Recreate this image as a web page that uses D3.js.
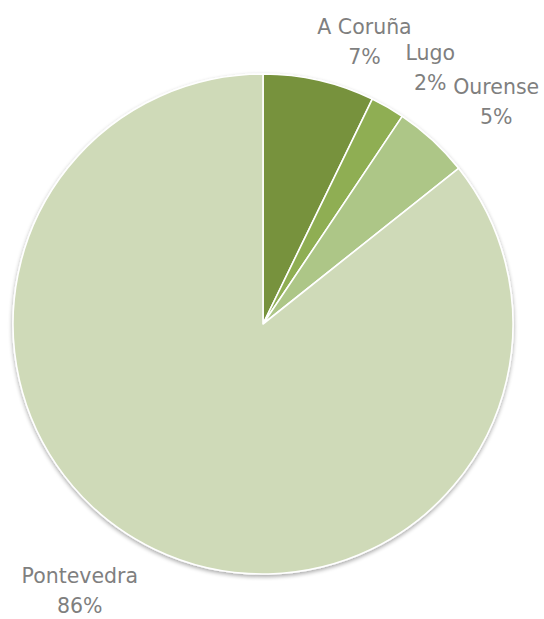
<!DOCTYPE html>
<html>
<head>
<meta charset="utf-8">
<script src="https://cdn.jsdelivr.net/npm/d3@7"></script>
<style>
  html, body { margin: 0; padding: 0; background: #ffffff; }
  svg { display: block; }
</style>
</head>
<body>
<svg id="chart" width="544" height="619"></svg>
<script>
// Share of the total by province
const provinces = ["A Coruña", "Lugo", "Ourense", "Pontevedra"];
const shares = [7.2, 2.2, 4.9, 85.7];
const percentLabels = ["7%", "2%", "5%", "86%"];
const sliceColors = ["#77923c", "#8fae53", "#adc687", "#cfdab8"];

const width = 544, height = 619;
const cx = 263, cy = 324, radius = 250;

// fine adjustments of each label box after it is placed outside the rim
const labelNudge = [[-4, -2], [13, -4], [14, -4], [-12, 6]];

const svg = d3.select("#chart");

const defs = svg.append("defs");
const shadow = defs.append("filter").attr("id", "pieShadow")
  .attr("x", "-10%").attr("y", "-10%").attr("width", "120%").attr("height", "120%");
shadow.append("feGaussianBlur").attr("in", "SourceAlpha").attr("stdDeviation", 2.2).attr("result", "blur");
shadow.append("feOffset").attr("in", "blur").attr("dx", 0).attr("dy", 1.5).attr("result", "off");
shadow.append("feComponentTransfer").attr("in", "off").attr("result", "soft")
  .append("feFuncA").attr("type", "linear").attr("slope", 0.35);
const merge = shadow.append("feMerge");
merge.append("feMergeNode").attr("in", "soft");
merge.append("feMergeNode").attr("in", "SourceGraphic");

const data = provinces.map((p, i) => ({ name: p, value: shares[i], label: percentLabels[i], color: sliceColors[i] }));

const pie = d3.pie().value(d => d.value).sort(null);
const arcs = pie(data);
const arc = d3.arc().innerRadius(0).outerRadius(radius);

const g = svg.append("g").attr("transform", `translate(${cx},${cy})`);

g.append("g").attr("filter", "url(#pieShadow)")
  .selectAll("path")
  .data(arcs)
  .join("path")
  .attr("d", arc)
  .attr("fill", d => d.data.color)
  .attr("stroke", "#ffffff")
  .attr("stroke-width", 1.6)
  .attr("stroke-linejoin", "round");

// Data labels sit just outside the rim, the label box touching the slice's mid-angle point
const fontSize = 20.5, lineGap = 29.5, pad = 10;
const labels = svg.append("g")
  .attr("font-family", "'DejaVu Sans', sans-serif")
  .attr("font-size", fontSize)
  .attr("fill", "#7f7f7f")
  .attr("text-anchor", "middle");

arcs.forEach((a, i) => {
  const mid = (a.startAngle + a.endAngle) / 2;
  const px = cx + Math.sin(mid) * (radius + pad);
  const py = cy - Math.cos(mid) * (radius + pad);
  const t = labels.append("text");
  t.append("tspan").attr("x", 0).attr("dy", 0).text(a.data.name);
  t.append("tspan").attr("x", 0).attr("dy", lineGap).text(a.data.label);
  const bb = t.node().getBBox();
  const w = bb.width, h = bb.height;
  const sx = Math.sin(mid) >= 0 ? 1 : -1;
  const sy = Math.cos(mid) >= 0 ? -1 : 1;
  const boxCx = px + sx * w / 2 + labelNudge[i][0];
  const boxCy = py + sy * h / 2 + labelNudge[i][1];
  t.attr("transform", `translate(${boxCx},${boxCy - (bb.y + h / 2)})`);
});
</script>
</body>
</html>
